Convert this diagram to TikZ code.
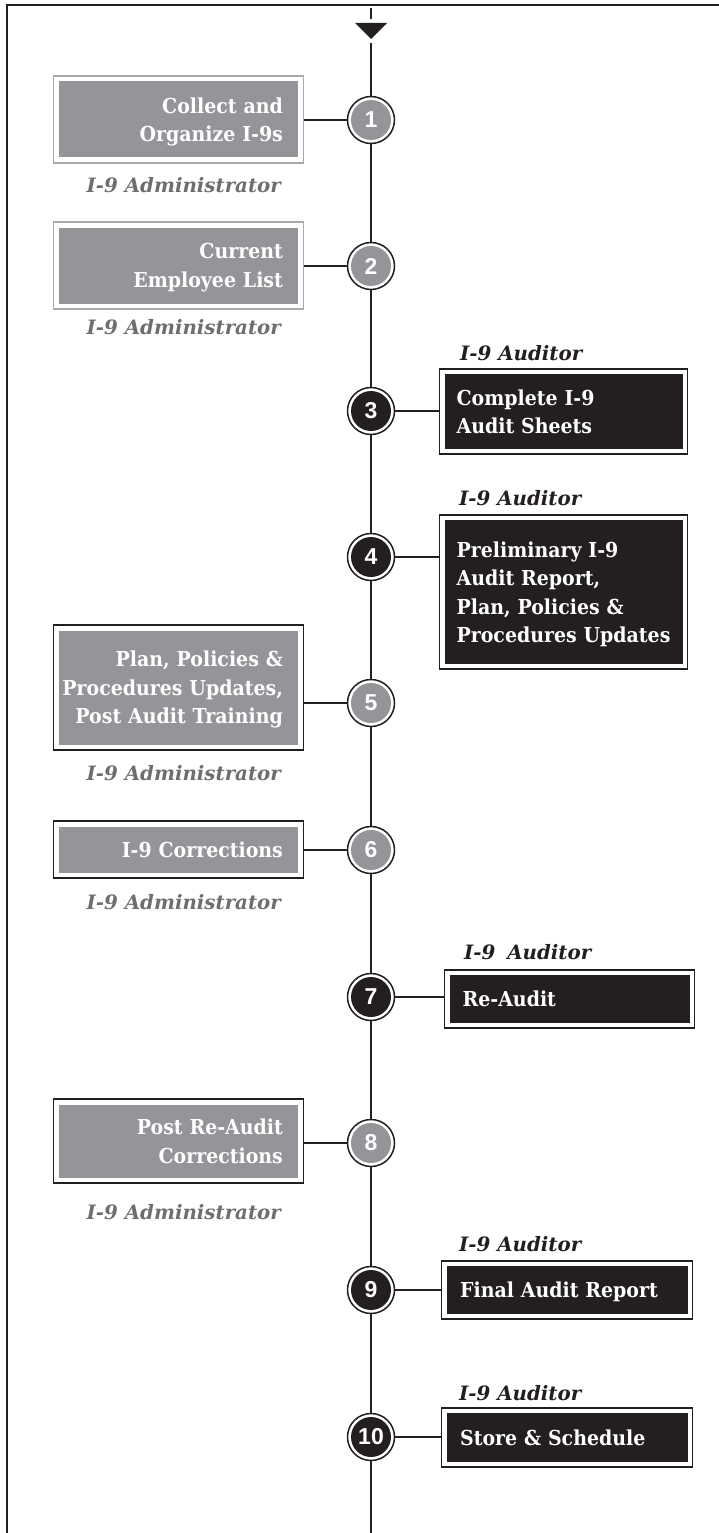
\documentclass[tikz,border=0pt]{standalone}
\usepackage{fontspec}
\setsansfont{Liberation Sans}
\newfontfamily\slabfont{DejaVu Serif}[FakeStretch=0.92]
\newfontfamily\slabrolefont{DejaVu Serif}
\usepackage{tikz}

\definecolor{stepgray}{HTML}{939598}
\definecolor{stepblack}{HTML}{231F20}
\definecolor{framegray}{HTML}{A7A9AC}
\definecolor{rolegray}{HTML}{6D6E71}

\newcommand{\boxfont}{\slabfont\bfseries\fontsize{20.6}{28.5}\selectfont\hyphenpenalty=10000 }
\newcommand{\rolefont}{\slabrolefont\bfseries\itshape\fontsize{19.8}{24}\selectfont}
\newcommand{\stepnumfont}{\sffamily\bfseries\fontsize{23}{23}\selectfont}

\tikzset{
    stepcircle/.style={circle, draw=stepblack, line width=1.5pt, fill=white,
        minimum size=47pt, inner sep=0pt, text=white, font=\stepnumfont,
        path picture={\fill[#1] (path picture bounding box.center) circle (20pt);}},
    adminbox/.style={draw=#1, line width=1.2pt, fill=white, anchor=east,
        minimum width=250pt, text width=234pt, align=right, inner xsep=8pt,
        inner ysep=0pt, text=white, font=\boxfont,
        execute at begin node={\rightskip=12.5pt\relax},
        execute at end node={\par\kern-\prevdepth},
        path picture={\fill[stepgray] ([shift={(5.5pt,-5.5pt)}]path picture bounding box.north west)
            rectangle ([shift={(-5.5pt,5.5pt)}]path picture bounding box.south east);}},
    auditbox/.style={draw=stepblack, line width=1.2pt, fill=white, anchor=west,
        minimum width=#1, text width=232pt, align=left, inner xsep=8pt,
        inner ysep=0pt, text=white, font=\boxfont,
        execute at begin node={\leftskip=9pt\relax},
        execute at end node={\par\kern-\prevdepth},
        path picture={\fill[stepblack] ([shift={(5pt,-5pt)}]path picture bounding box.north west)
            rectangle ([shift={(-5pt,5pt)}]path picture bounding box.south east);}},
    adminrole/.style={anchor=east, text=rolegray, font=\rolefont, inner sep=0pt},
    auditrole/.style={anchor=west, text=stepblack, font=\rolefont, inner sep=0pt},
    spine/.style={draw=stepblack, line width=2pt},
    connector/.style={draw=stepblack, line width=1.2pt}
}

\begin{document}
\begin{tikzpicture}[x=1pt, y=-1pt]
    \useasboundingbox (0,0) rectangle (719,1533);
    % frame and incoming arrow
    \draw[stepblack, line width=1.6pt] (7,1533) -- (7,5) -- (719,5);
    \draw[spine] (371,8) -- (371,19);
    \fill[stepblack] (355,23) -- (387,23) -- (371,39) -- cycle;
    \coordinate (top) at (371,43);
    \coordinate (bottom) at (371,1533);

    % steps on the spine
    \foreach \n/\y/\col in {1/120/stepgray, 2/266/stepgray, 3/411/stepblack, 4/557/stepblack,
        5/703/stepgray, 6/850/stepgray, 7/997/stepblack, 8/1143/stepgray,
        9/1290/stepblack, 10/1437/stepblack}
        \node[stepcircle=\col] (c\n) at (371,\y) {\n};

    \draw[spine] (top) -- (c1);
    \foreach \a/\b in {1/2, 2/3, 3/4, 4/5, 5/6, 6/7, 7/8, 8/9, 9/10}
        \draw[spine] (c\a) -- (c\b);
    \draw[spine] (c10) -- (bottom);

    % administrator side
    \node[adminbox=framegray, minimum height=87pt] (b1) at (304,119.5) {Collect and\\Organize I-9s};
    \node[adminbox=framegray, minimum height=87pt] (b2) at (304,265.5) {Current\\Employee List};
    \node[adminbox=stepblack, minimum height=125pt] (b5) at (304,687.5) {Plan, Policies \&\\Procedures~Updates,\\Post Audit Training};
    \node[adminbox=stepblack, minimum height=57pt] (b6) at (304,849.5) {I-9 Corrections};
    \node[adminbox=stepblack, minimum height=84pt] (b8) at (304,1141) {Post Re-Audit\\Corrections};

    \node[adminrole] (r1) at (281,185) {I-9 Administrator};
    \node[adminrole] (r2) at (281,327) {I-9 Administrator};
    \node[adminrole] (r5) at (281,773) {I-9 Administrator};
    \node[adminrole] (r6) at (281,902) {I-9 Administrator};
    \node[adminrole] (r8) at (281,1212) {I-9 Administrator};

    % auditor side
    \node[auditbox=248pt, minimum height=85pt] (b3) at (439,411.5) {Complete I-9\\Audit Sheets};
    \node[auditbox=248pt, minimum height=154pt] (b4) at (439,592) {Preliminary I-9\\Audit Report,\\Plan, Policies \&\\Procedures~Updates};
    \node[auditbox=250pt, minimum height=58pt] (b7) at (444,999) {Re-Audit};
    \node[auditbox=251pt, minimum height=58pt] (b9) at (441,1290) {Final Audit Report};
    \node[auditbox=251pt, minimum height=59pt] (b10) at (441,1437.5) {Store \& Schedule};

    \node[auditrole] (r3) at (460,353) {I-9 Auditor};
    \node[auditrole] (r4) at (459,498) {I-9 Auditor};
    \node[auditrole] (r7) at (464,952) {I-9\hspace{0.6em}Auditor};
    \node[auditrole] (r9) at (459,1244) {I-9 Auditor};
    \node[auditrole] (r10) at (459,1393) {I-9 Auditor};

    % ties from steps to boxes
    \foreach \n in {1, 2, 5, 6, 8}
        \draw[connector] (c\n) -- (c\n -| b\n.east);
    \foreach \n in {3, 4, 7, 9, 10}
        \draw[connector] (c\n) -- (c\n -| b\n.west);
\end{tikzpicture}
\end{document}
